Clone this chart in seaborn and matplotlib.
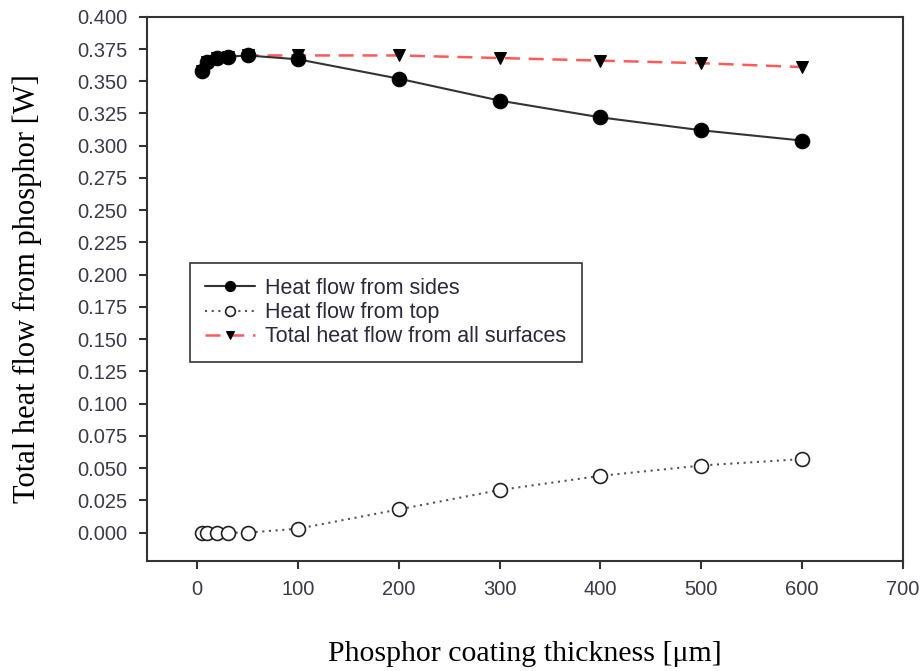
import matplotlib
matplotlib.use("Agg")
import matplotlib.pyplot as plt
import seaborn as sns
import pandas as pd

# Phosphor coating thickness [um]
thickness = [5, 10, 20, 30, 50, 100, 200, 300, 400, 500, 600]
# Heat flow [W]
sides = [0.358, 0.365, 0.368, 0.369, 0.370, 0.367, 0.352, 0.335, 0.322, 0.312, 0.304]
top = [0.000, 0.000, 0.000, 0.000, 0.000, 0.003, 0.018, 0.033, 0.044, 0.052, 0.057]
total = [0.358, 0.365, 0.368, 0.369, 0.370, 0.370, 0.370, 0.368, 0.366, 0.364, 0.361]

x_ticks = [0, 100, 200, 300, 400, 500, 600, 700]
y_ticks = [i * 0.025 for i in range(17)]

df = pd.DataFrame({"thickness": thickness, "sides": sides, "top": top, "total": total})

sns.set_theme(style="ticks")
plt.rcParams["font.family"] = ["Liberation Sans", "DejaVu Sans"]

fig = plt.figure(figsize=(9.24, 6.71), dpi=100)
ax = fig.add_axes([0.159, 0.164, 0.818, 0.811])

sns.lineplot(data=df, x="thickness", y="total", ax=ax, color="#ff5a5a",
             linestyle=(0, (6, 3.5)), linewidth=1.8, marker="v", markersize=8.5,
             markerfacecolor="black", markeredgecolor="black",
             label="Total heat flow from all surfaces", zorder=2)
sns.lineplot(data=df, x="thickness", y="sides", ax=ax, color="#333333",
             linestyle="-", linewidth=1.5, marker="o", markersize=10.5,
             markerfacecolor="black", markeredgecolor="black",
             label="Heat flow from sides", zorder=3)
sns.lineplot(data=df, x="thickness", y="top", ax=ax, color="#555555",
             linestyle=(0, (1, 2.2)), linewidth=1.5, marker="o", markersize=10,
             markerfacecolor="white", markeredgecolor="#222222", markeredgewidth=1.2,
             label="Heat flow from top", zorder=3)

ax.set_xlim(-50, 700)
ax.set_ylim(-0.022, 0.4)
ax.set_xticks(x_ticks)
ax.set_yticks(y_ticks)
ax.set_xticklabels([str(v) for v in x_ticks])
ax.set_yticklabels([f"{v:.3f}" for v in y_ticks])
ax.tick_params(axis="both", direction="out", length=6, width=1.5, colors="#333333",
               labelsize=14.5, labelcolor="#3a3a4a", top=False, right=False)
ax.tick_params(axis="x", pad=8)
ax.tick_params(axis="y", pad=8)

for s in ax.spines.values():
    s.set_color("#333333")
    s.set_linewidth(1.5)
    s.set_visible(True)

ax.set_xlabel("Phosphor coating thickness [μm]", family=["Liberation Serif", "DejaVu Serif"],
              fontsize=21.5, color="black", labelpad=30)
ax.set_ylabel("Total heat flow from phosphor [W]", family=["Liberation Serif", "DejaVu Serif"],
              fontsize=22, color="black", labelpad=25)

handles, labels = ax.get_legend_handles_labels()
order = [labels.index("Heat flow from sides"), labels.index("Heat flow from top"),
         labels.index("Total heat flow from all surfaces")]
leg = ax.legend([handles[i] for i in order], [labels[i] for i in order],
                loc="upper left", bbox_to_anchor=(0.057, 0.548), fontsize=15.5,
                frameon=True, fancybox=False, edgecolor="#333333", framealpha=1,
                handlelength=2.3, handletextpad=0.5, labelspacing=0.15,
                borderpad=0.7, borderaxespad=0, numpoints=1, markerscale=0.7)
leg.get_frame().set_linewidth(1.2)
for t in leg.get_texts():
    t.set_color("#2a2a3a")

fig.savefig("out.png", dpi=100)
